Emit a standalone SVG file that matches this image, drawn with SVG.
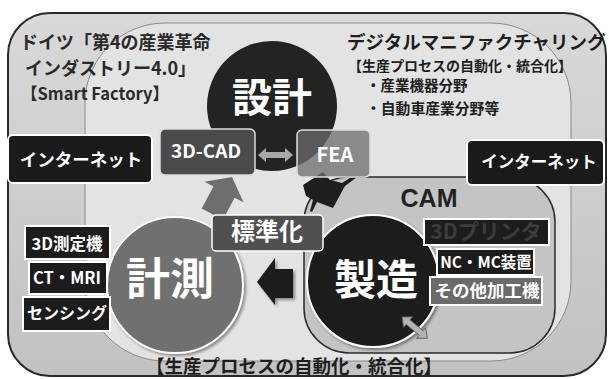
<svg xmlns="http://www.w3.org/2000/svg" width="609" height="379" viewBox="0 0 609 379">
<style>
text{font-family:"Noto Sans CJK JP","Noto Sans",sans-serif;font-weight:bold}
.w{fill:#fff}
.c{text-anchor:middle}
.dk{fill:#2a2a2a}
.blk{fill:#1c1c1c;stroke:#fff;stroke-width:2}
.dbl{fill:#b4b4b4;stroke:#555;stroke-width:0.8}
</style>
<defs>
<linearGradient id="bg" x1="0" y1="0" x2="0" y2="1">
<stop offset="0" stop-color="#d9d9d9"/>
<stop offset="1" stop-color="#c2c2c2"/>
</linearGradient>
<filter id="sh" x="-20%" y="-20%" width="140%" height="140%">
<feDropShadow dx="2" dy="2" stdDeviation="1.5" flood-color="#000" flood-opacity="0.4"/>
</filter>
</defs>
<rect x="0" y="0" width="609" height="379" fill="#fff"/>
<g id="frame">
<rect x="8" y="13" width="598" height="363" rx="42" fill="url(#bg)" stroke="#2a2a2a" stroke-width="2"/>
<rect x="85" y="23" width="486" height="338" rx="80" fill="#e3e3e3" stroke="#8a8a8a" stroke-width="1"/>
</g>
<g id="cam">
<rect x="304" y="177" width="251" height="176" rx="45" fill="#c4c4c4" stroke="#2a2a2a" stroke-width="1.5"/>
<text x="429" y="207" font-size="25" class="c" fill="#222" style="font-family:'Liberation Sans',Arial,sans-serif">CAM</text>
</g>
<g id="sekkei">
<circle cx="272" cy="106" r="65" fill="#232323"/>
<text x="272" y="112" font-size="40" class="c w">設計</text>
</g>
<g id="keisoku">
<circle cx="175" cy="285" r="68" fill="#6f6f6f" stroke="#fff" stroke-width="2" filter="url(#sh)"/>
<text x="170" y="295" font-size="44" class="c w">計測</text>
</g>
<g id="seizou">
<circle cx="373" cy="281" r="66" fill="#1c1c1c" stroke="#fff" stroke-width="2" filter="url(#sh)"/>
<text x="376" y="295" font-size="42" class="c w">製造</text>
</g>
<g id="connectors">
<polygon points="0,0 22,17 12,17 12,42 -12,42 -12,17 -22,17" fill="#6e6e6e" transform="translate(232,177) rotate(28)"/>
<polygon points="303,185 323,172 330,180 342,183 350,178 357,177 345,186 333,208 317,202 312,212 310,211 313,200 306,196" fill="#1e1e1e"/>
<polygon points="257,282 275,258 275,269 293,269 293,298 275,298 275,305" fill="#1e1e1e" filter="url(#sh)"/>
<polygon points="258,155 266,148 266,152 285,152 285,148 293,155 285,162 285,158 266,158 266,162" fill="#a8a8a8"/>
<polygon points="0,0 8,-7 8,-3 25,-3 25,-7 33,0 25,7 25,3 8,3 8,7" class="dbl" transform="translate(402,317) rotate(40)"/>
</g>
<g id="texts">
<text x="20" y="49" font-size="18" class="dk">ドイツ「第4の産業革命</text>
<text x="25" y="75" font-size="18" class="dk">インダストリー4.0」</text>
<text x="21" y="100" font-size="16.5" class="dk">【Smart Factory】</text>
<text x="347" y="49" font-size="18.5" fill="#1e1e1e">デジタルマニファクチャリング</text>
<text x="460" y="71" font-size="14" class="c" fill="#1e1e1e">【生産プロセスの自動化・統合化】</text>
<text x="366" y="91" font-size="14.5" fill="#1e1e1e">・産業機器分野</text>
<text x="366" y="114" font-size="14.8" fill="#1e1e1e">・自動車産業分野等</text>
<text x="294" y="373" font-size="18.5" class="c" fill="#1e1e1e">【生産プロセスの自動化・統合化】</text>
</g>
<g id="internet-left">
<rect x="8" y="135" width="144" height="48" rx="5" fill="#1a1a1a" stroke="#fff" stroke-width="2"/>
<text x="81" y="166" font-size="17.5" class="c w">インターネット</text>
</g>
<g id="internet-right">
<rect x="467" y="140" width="137" height="45" rx="5" fill="#1a1a1a" stroke="#fff" stroke-width="2"/>
<text x="539" y="168" font-size="16.5" class="c w">インターネット</text>
</g>
<g id="cad">
<rect x="160" y="129" width="95" height="46" rx="5" fill="#4b4b4b" stroke="#ddd" stroke-width="1.5"/>
<text x="206" y="158" font-size="19" class="c w">3D-CAD</text>
</g>
<g id="fea">
<rect x="297" y="130" width="73" height="47" rx="5" fill="#6c6c6c" fill-opacity="0.75" stroke="#ddd" stroke-width="1.5"/>
<text x="335" y="162" font-size="20" class="c w">FEA</text>
</g>
<g id="hyoujunka">
<rect x="212" y="215" width="111" height="36" rx="4" fill="#505050" stroke="#fff" stroke-width="1.5"/>
<text x="267" y="240" font-size="24" class="c w">標準化</text>
</g>
<g id="sokuteiki">
<rect x="25" y="226" width="85" height="33" class="blk"/>
<text x="67" y="250" font-size="16.5" class="c w">3D測定機</text>
</g>
<g id="ctmri">
<rect x="29" y="262" width="78" height="32" class="blk"/>
<text x="67" y="284" font-size="16.5" class="c w">CT・MRI</text>
</g>
<g id="sensing">
<rect x="23" y="297" width="87" height="34" class="blk"/>
<text x="67" y="319" font-size="16" class="c w">センシング</text>
</g>
<g id="printer">
<rect x="424" y="219" width="125" height="26" class="blk"/>
<text x="486" y="239" font-size="21" class="c" fill="#3c3c3c">3Dプリンタ</text>
</g>
<g id="ncmc">
<rect x="437" y="249" width="97" height="26" class="blk"/>
<text x="486" y="268" font-size="15.5" class="c w">NC・MC装置</text>
</g>
<g id="sonota">
<rect x="430" y="277" width="112" height="28" fill="#6a6a6a" stroke="#fff" stroke-width="2"/>
<text x="487" y="297" font-size="17.5" class="c w">その他加工機</text>
</g>
</svg>
